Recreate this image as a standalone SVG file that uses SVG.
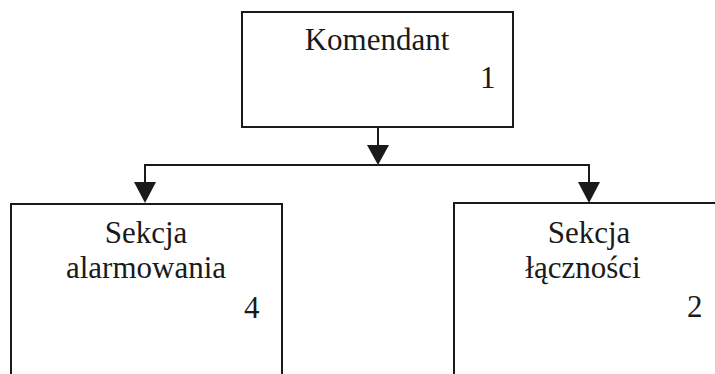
<svg xmlns="http://www.w3.org/2000/svg" width="715" height="374" viewBox="0 0 715 374">
<defs>
<style>
.box{fill:#fff;stroke:#1a1a1a;stroke-width:2}
.ln{fill:none;stroke:#1a1a1a;stroke-width:2}
.ah{fill:#1a1a1a}
text{font-family:"Liberation Serif","Times New Roman",serif;font-size:31px;fill:#1a1a1a}
.c{text-anchor:middle}
</style>
</defs>
<rect width="715" height="374" fill="#fff"/>
<g id="connectors">
<path class="ln" d="M378 127 V150"/>
<path class="ln" d="M145 185 V165 H589 V185"/>
<polygon class="ah" points="367,145 389,145 378,165"/>
<polygon class="ah" points="134,182 156,182 145,203"/>
<polygon class="ah" points="578,182 600,182 589,203"/>
</g>
<g id="komendant">
<rect class="box" x="242" y="12" width="271" height="115"/>
<text class="c" x="377" y="50">Komendant</text>
<text x="480" y="88">1</text>
</g>
<g id="sekcja-alarmowania">
<path class="box" d="M11 380 V204 H282 V380"/>
<text class="c" x="146" y="243">Sekcja</text>
<text class="c" x="146" y="278">alarmowania</text>
<text x="244" y="318">4</text>
</g>
<g id="sekcja-lacznosci">
<path class="box" d="M454 380 V203 H720"/>
<text class="c" x="589" y="243">Sekcja</text>
<text class="c" x="583" y="278">łączności</text>
<text x="687" y="317">2</text>
</g>
</svg>
